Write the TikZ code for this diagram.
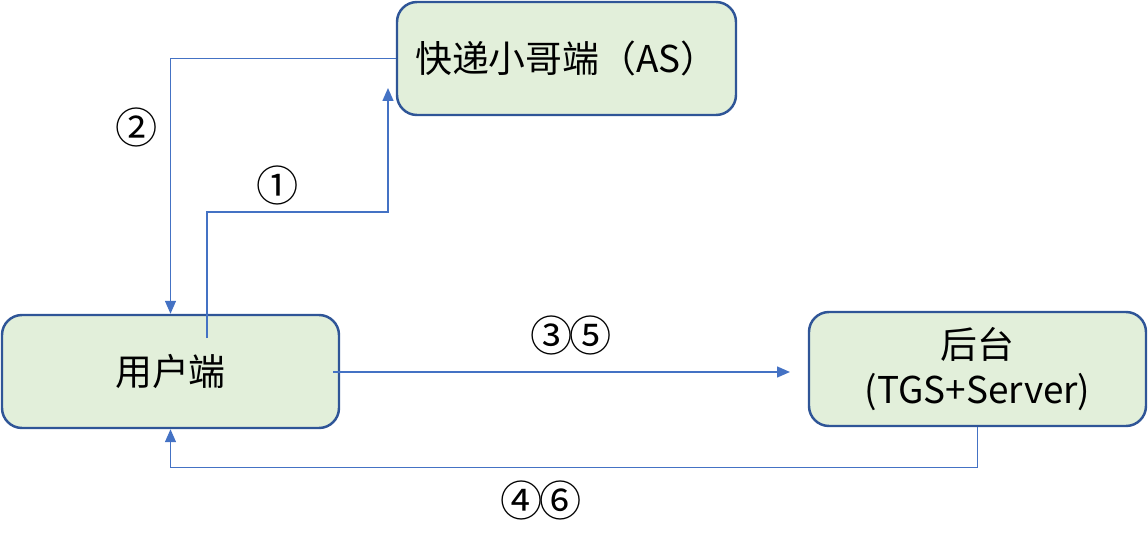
\documentclass[tikz,border=0pt]{standalone}
\usepackage{fontspec}
\setmainfont{Noto Sans CJK SC}
\usetikzlibrary{arrows.meta}
\definecolor{boxline}{HTML}{2F5597}
\definecolor{boxfill}{HTML}{E2EFDA}
\definecolor{linkblue}{HTML}{4472C4}

\begin{document}
\begin{tikzpicture}[
  box/.style={rectangle, rounded corners=0.2cm, draw=boxline, fill=boxfill, line width=0.7pt, minimum height=1.13cm, minimum width=3.37cm, align=center, font=\fontsize{10.5pt}{12.8pt}\selectfont},
  arrow/.style={-{Triangle[length=0.13cm, width=0.11cm]}, draw=linkblue, line width=0.4pt},
  stepnum/.style={font=\fontsize{12pt}{14pt}\selectfont, inner sep=0pt}
]
\useasboundingbox (0,0) rectangle (11.48,5.45);

\node[box, minimum width=3.39cm] (as) at (5.665,4.865) {快递小哥端（AS）};
\node[box] (user) at (1.705,1.735) {用户端};
\node[box, minimum height=1.14cm] (back) at (9.775,1.76) {后台\\(TGS+Server)};

% free ends of the links
\coordinate (u1) at (2.07,2.07);
\coordinate (a1) at (3.88,4.57);
\coordinate (u3) at (3.33,1.73);
\coordinate (b3) at (7.90,1.73);

\draw[arrow] (u1) |- (3.88,3.33) -- (a1);
\draw[arrow] (as.west) -| (user.north);
\draw[arrow] (u3) -- (b3);
\draw[arrow] (back.south) -- ++(0,-0.4) -| (user.south);

\node[stepnum] (n1) at (2.78,3.60) {①};
\node[stepnum] (n2) at (1.37,4.18) {②};
\node[stepnum] (n35) at (5.71,2.10) {③\kern-1pt⑤};
\node[stepnum] (n46) at (5.41,0.45) {④\kern-1pt⑥};

\end{tikzpicture}
\end{document}
